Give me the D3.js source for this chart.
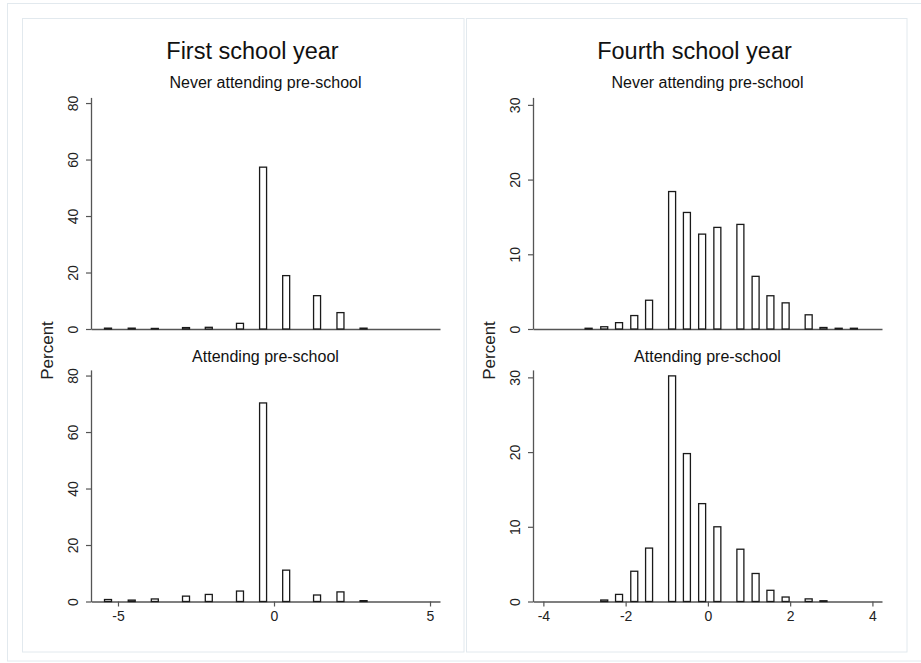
<!DOCTYPE html>
<html>
<head>
<meta charset="utf-8">
<script src="https://cdn.jsdelivr.net/npm/d3@7"></script>
<style>
  html, body { margin: 0; padding: 0; background: #fff; }
  svg { display: block; font-family: "Liberation Sans", Arial, sans-serif; }
</style>
</head>
<body>
<svg id="chart" width="921" height="663"></svg>
<script>
// Standardised score values (bar centres) and percent per value
const firstYearX      = [-5.32, -4.56, -3.82, -2.82, -2.09, -1.09, -0.35, 0.39, 1.38, 2.13, 2.87];
const firstNever      = [0.3, 0.3, 0.2, 0.5, 0.6, 2.0, 57.3, 18.9, 11.8, 5.8, 0.3];
const firstAttending  = [0.7, 0.5, 0.9, 1.9, 2.5, 3.7, 70.3, 11.1, 2.3, 3.4, 0.3];

const fourthYearX     = [-2.90, -2.52, -2.16, -1.79, -1.43, -0.87, -0.51, -0.14, 0.23, 0.79, 1.16, 1.52, 1.89, 2.45, 2.81, 3.18, 3.55];
const fourthNever     = [0.1, 0.3, 0.85, 1.8, 3.85, 18.4, 15.6, 12.7, 13.6, 14.0, 7.05, 4.45, 3.5, 1.9, 0.2, 0.1, 0.1];
const fourthAttending = [0, 0.2, 0.95, 4.05, 7.15, 30.2, 19.8, 13.1, 10.0, 7.0, 3.75, 1.5, 0.6, 0.35, 0.1, 0, 0];

const firstXTicks  = [-5, 0, 5];
const fourthXTicks = [-4, -2, 0, 2, 4];
const firstYTicks  = [0, 20, 40, 60, 80];
const fourthYTicks = [0, 10, 20, 30];

const panelTitles = ["First school year", "Fourth school year"];
const groupLabels = ["Never attending pre-school", "Attending pre-school"];
const yLabel = "Percent";

const svg = d3.select("#chart");
const FONT = "'Liberation Sans', Arial, sans-serif";
const FRAME = "#e2e9ee";

// outer frame
svg.append("rect").attr("x", 7.5).attr("y", 3.5).attr("width", 930).attr("height", 657.5)
  .attr("fill", "#fff").attr("stroke", FRAME).attr("stroke-width", 1);

const panels = [
  { box: [22.5, 18.5, 441.5, 633.5], plotX: [91, 440], xDomain: [-5.865, 5.32],
    yMax: 82, x: firstYearX, series: [firstNever, firstAttending], xTicks: firstXTicks,
    yTicks: firstYTicks, binW: 0.224, title: panelTitles[0] },
  { box: [466.5, 18.5, 440.5, 633.5], plotX: [533, 882], xDomain: [-4.252, 4.233],
    yMax: 31, x: fourthYearX, series: [fourthNever, fourthAttending], xTicks: fourthXTicks,
    yTicks: fourthYTicks, binW: 0.17, title: panelTitles[1] }
];

// vertical extents of the two stacked sub-plots: [baseline, top of axis]
const rows = [[329, 97.4], [601.5, 369.9]];

panels.forEach(p => {
  svg.append("rect").attr("x", p.box[0]).attr("y", p.box[1]).attr("width", p.box[2]).attr("height", p.box[3])
    .attr("fill", "#fff").attr("stroke", FRAME).attr("stroke-width", 1);

  const x = d3.scaleLinear().domain(p.xDomain).range(p.plotX);
  const midX = (p.plotX[0] + p.plotX[1]) / 2;

  svg.append("text").attr("x", midX - 13).attr("y", 58.5).attr("text-anchor", "middle")
    .attr("font-size", 23.5).attr("fill", "#111").attr("font-family", FONT).text(p.title);

  svg.append("text")
    .attr("transform", `translate(${p.plotX[0] - 38},${(rows[0][0] + rows[1][1]) / 2 + 1}) rotate(-90)`)
    .attr("text-anchor", "middle").attr("font-size", 17).attr("fill", "#222").attr("font-family", FONT)
    .text(yLabel);

  rows.forEach((r, i) => {
    const y = d3.scaleLinear().domain([0, p.yMax]).range(r);
    const g = svg.append("g");

    g.append("text").attr("x", midX).attr("y", i === 0 ? 87.5 : 361.5).attr("text-anchor", "middle")
      .attr("font-size", 16).attr("fill", "#111").attr("font-family", FONT).text(groupLabels[i]);

    // y axis with labels rotated to run along the axis
    const yAxis = g.append("g").attr("transform", `translate(${p.plotX[0]},0)`)
      .call(d3.axisLeft(y).tickValues(p.yTicks).tickSize(5).tickSizeOuter(0));
    yAxis.select(".domain").attr("stroke", "#555").attr("stroke-width", 1.3);
    yAxis.selectAll(".tick line").attr("stroke", "#555").attr("stroke-width", 1.2);
    yAxis.selectAll(".tick text")
      .attr("font-size", 14).attr("fill", "#222").attr("font-family", FONT)
      .attr("transform", "rotate(-90)").attr("text-anchor", "middle")
      .attr("x", 0).attr("y", -13).attr("dy", 0);

    // x axis (ticks and labels only on the lower sub-plot)
    const xAxisGen = d3.axisBottom(x).tickValues(i === 1 ? p.xTicks : []).tickSize(5).tickPadding(5)
      .tickSizeOuter(0).tickFormat(d => d < 0 ? "-" + Math.abs(d) : String(d));
    const xAxis = g.append("g").attr("transform", `translate(0,${r[0]})`).call(xAxisGen);
    xAxis.select(".domain").attr("stroke", "#555").attr("stroke-width", 1.3);
    xAxis.selectAll(".tick line").attr("stroke", "#555").attr("stroke-width", 1.2);
    xAxis.selectAll(".tick text").attr("font-size", 14).attr("fill", "#222").attr("font-family", FONT);

    // histogram bars
    const data = p.x.map((v, k) => ({ v, pct: p.series[i][k] })).filter(d => d.pct > 0);
    g.selectAll("rect.bar").data(data).join("rect").attr("class", "bar")
      .attr("x", d => x(d.v - p.binW / 2))
      .attr("width", d => x(d.v + p.binW / 2) - x(d.v - p.binW / 2))
      .attr("y", d => y(d.pct))
      .attr("height", d => y(0) - y(d.pct))
      .attr("fill", "#fff").attr("stroke", "#1a1a1a").attr("stroke-width", 1.3);
  });
});
</script>
</body>
</html>
